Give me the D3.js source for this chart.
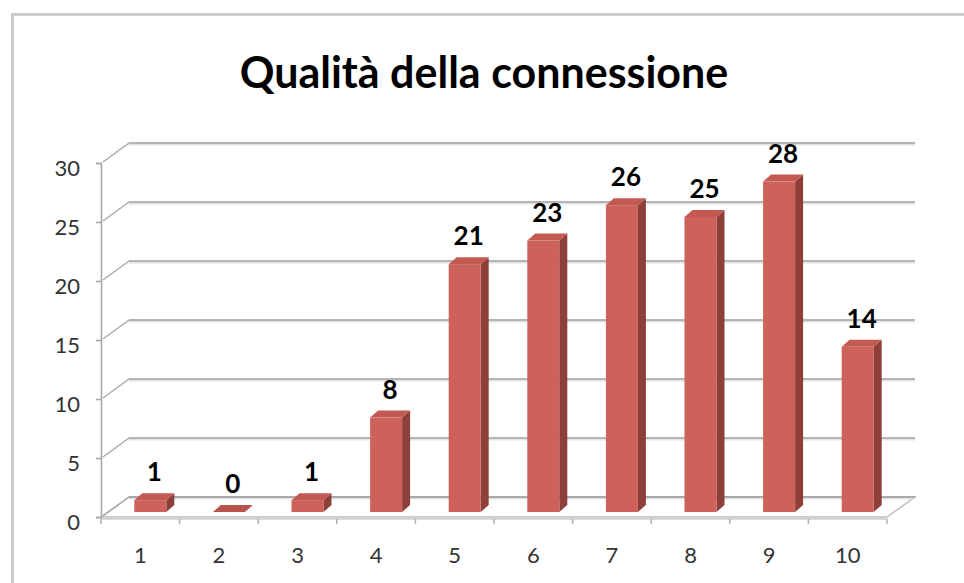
<!DOCTYPE html>
<html><head><meta charset="utf-8">
<script src="https://cdn.jsdelivr.net/npm/d3@7"></script>
<style>
html,body{margin:0;padding:0;background:#fff;}
svg{display:block;}
text{font-family:Lato,"Open Sans",sans-serif;}
</style></head>
<body>
<script>
const title = "Qualità della connessione";
const categories = ["1","2","3","4","5","6","7","8","9","10"];
const values = [1,0,1,8,21,23,26,25,28,14];
const yTicks = [0,5,10,15,20,25,30];

const W = 964, H = 583;
const svg = d3.select("body").append("svg").attr("width", W).attr("height", H);

// chart border
svg.append("rect").attr("x", 12.5).attr("y", 14.5).attr("width", 1000).attr("height", 1000)
  .attr("fill", "#fff").attr("stroke", "#cccccc").attr("stroke-width", 3);

const x = d3.scaleBand().domain(categories).range([101, 887]).paddingInner(0).paddingOuter(0);
const y = d3.scaleLinear().domain([0, 30]).range([517, 163]);
const DX = 28, DY = -20;          // wall depth
const BX = 8, BY = -7;            // bar depth
const FX = 7, FY = -5;            // bar front inset
const BW = 32;                    // bar front width

// title
svg.append("text").attr("x", 484).attr("y", 88).attr("text-anchor", "middle")
  .attr("font-size", 43).attr("font-weight", "bold").attr("fill", "#000").text(title);

// floor
const x0 = x.range()[0], x1 = x.range()[1];
svg.append("path")
  .attr("d", `M${x0},${y(0)}L${x1},${y(0)}L${x1+DX},${y(0)+DY}L${x0+DX},${y(0)+DY}Z`)
  .attr("fill", "#fff").attr("stroke", "#bdbdbd").attr("stroke-width", 1.5);
svg.append("line").attr("x1", x0).attr("x2", x1).attr("y1", y(0)+1.5).attr("y2", y(0)+1.5)
  .attr("stroke", "#d0d0d0").attr("stroke-width", 2.5);

// gridlines on back wall + diagonals on side
const g = svg.append("g");
yTicks.forEach(t => {
  g.append("line").attr("x1", x0+DX).attr("x2", x1+DX).attr("y1", y(t)+DY+1.8).attr("y2", y(t)+DY+1.8)
    .attr("stroke", "#e2e2e2").attr("stroke-width", 1.5);
  g.append("line").attr("x1", x0+DX).attr("x2", x1+DX).attr("y1", y(t)+DY).attr("y2", y(t)+DY)
    .attr("stroke", "#9c9c9c").attr("stroke-width", 1.6);
  g.append("line").attr("x1", x0+2).attr("x2", x0+DX).attr("y1", y(t)-1).attr("y2", y(t)+DY)
    .attr("stroke", "#a8a8a8").attr("stroke-width", 1.4);
});

// y axis
const yAxis = d3.axisLeft(y).tickValues(yTicks).tickSize(5).tickPadding(16);
const ya = svg.append("g").attr("transform", `translate(${x0},0)`).call(yAxis);
ya.select(".domain").attr("stroke", "#a8a8a8").attr("stroke-width", 1.6);
ya.selectAll(".tick line").attr("stroke", "#a8a8a8").attr("stroke-width", 1.6);
ya.selectAll(".tick text").attr("font-size", 22).attr("fill", "#333")
  .attr("font-family", "Lato, sans-serif").attr("dy", "0.57em");

// x axis
const xAxis = d3.axisBottom(x).tickSize(0).tickPadding(30);
const xa = svg.append("g").attr("transform", `translate(0,${y(0)})`).call(xAxis);
xa.select(".domain").remove();
xa.selectAll(".tick text").attr("font-size", 22).attr("fill", "#333")
  .attr("font-family", "Lato, sans-serif").attr("dy", "0.72em");
// category separators
const seps = categories.map(c => x(c)).concat([x1]);
svg.append("g").selectAll("line").data(seps).join("line")
  .attr("x1", d => d).attr("x2", d => d).attr("y1", y(0)+2).attr("y2", y(0)+7)
  .attr("stroke", "#b0b0b0").attr("stroke-width", 1.5);

// bars
const bars = svg.append("g");
categories.forEach((c, i) => {
  const v = values[i];
  const left = x(c) + x.bandwidth()/2 + 10 - BW/2;
  const right = left + BW;
  const top = y(v) + FY, bot = y(0) + FY;
  const bg = bars.append("g");
  if (v > 0) {
    bg.append("path").attr("d", `M${right},${top}L${right+BX},${top+BY}L${right+BX},${bot+BY}L${right},${bot}Z`)
      .attr("fill", "#8e3f39");
    bg.append("rect").attr("x", left).attr("y", top).attr("width", BW).attr("height", bot - top)
      .attr("fill", "#cc625a");
  }
  bg.append("path").attr("d", `M${left},${top}L${left+BX},${top+BY}L${right+BX},${top+BY}L${right},${top}Z`)
    .attr("fill", v > 0 ? "#c35a52" : "#b9544d");
  bars.append("text").attr("x", left + BW/2 + BX/2).attr("y", top + BY - 12)
    .attr("text-anchor", "middle").attr("font-size", 26).attr("font-weight", "bold")
    .attr("fill", "#000").text(v);
});
</script>
</body></html>
